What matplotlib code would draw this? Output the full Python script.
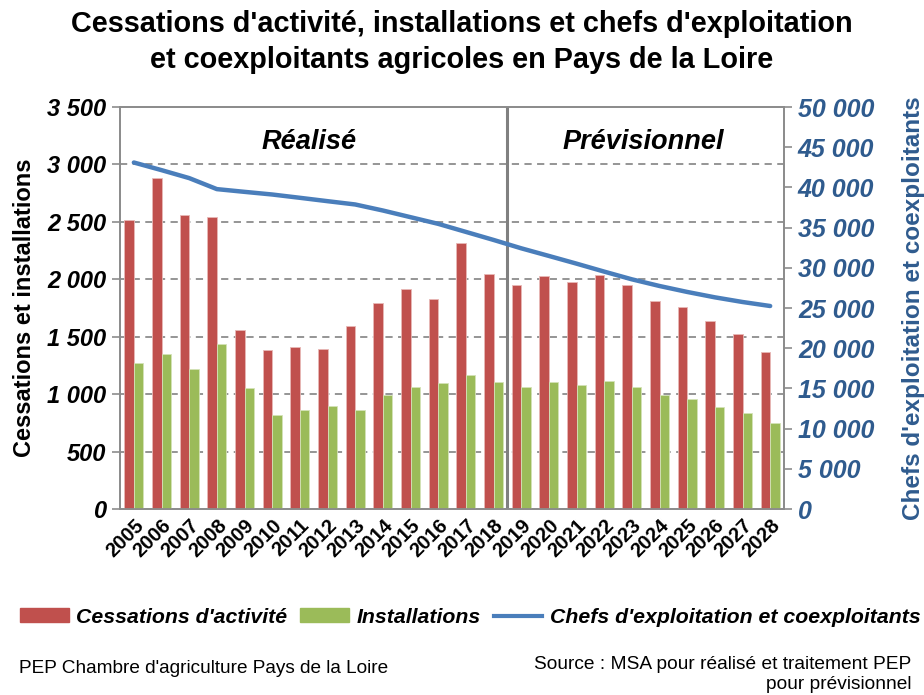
import matplotlib
matplotlib.use('Agg')
import matplotlib.pyplot as plt
import matplotlib.patches as mpatches
from matplotlib.lines import Line2D
from matplotlib.ticker import FuncFormatter, MultipleLocator
import numpy as np

plt.rcParams['font.family'] = ['Liberation Sans', 'DejaVu Sans']

# ── Data ───────────────────────────────────────────────────────────────────
years = [str(y) for y in range(2005, 2029)]
cessations = [2520, 2880, 2560, 2545, 1560, 1385, 1410, 1390, 1590, 1795,
              1915, 1830, 2320, 2050, 1950, 2025, 1975, 2040, 1950, 1815,
              1755, 1635, 1525, 1365]
installations = [1270, 1350, 1220, 1440, 1055, 820, 860, 895, 865, 995,
                 1065, 1095, 1165, 1105, 1065, 1110, 1080, 1115, 1065, 995,
                 960, 890, 835, 750]
chefs = [43100, 42150, 41160, 39790, 39450, 39120, 38710, 38290, 37880,
         37130, 36300, 35470, 34470, 33470, 32430, 31480, 30520, 29530,
         28570, 27740, 27000, 26330, 25750, 25250]

RED = '#C0504D'
GREEN = '#9BBB59'
BLUE = '#4A7EBB'
AXIS_BLUE = '#2F5B8E'
GRID = '#8C8C8C'

def fr_thousands(v, pos):
    return f'{int(v):,}'.replace(',', ' ')

# ── Figure ─────────────────────────────────────────────────────────────────
fig = plt.figure(figsize=(9.24, 6.95), dpi=100)
ax = fig.add_axes([0.1299, 0.2676, 0.7186, 0.5784])

x = np.arange(len(years))
w = 0.345
ax.bar(x - w / 2, cessations, w, color=RED, edgecolor='#E8B8B6', linewidth=0.6, zorder=3)
ax.bar(x + w / 2, installations, w, color=GREEN, edgecolor='#D4E3B8', linewidth=0.6, zorder=3)

ax.set_xlim(-0.5, len(years) - 0.5)
ax.set_ylim(0, 3500)
ax.yaxis.set_major_locator(MultipleLocator(500))
ax.yaxis.set_major_formatter(FuncFormatter(fr_thousands))
for gy in range(500, 3500, 500):
    ax.axhline(gy, color=GRID, linestyle=(0, (4, 3)), linewidth=1.3, zorder=1)

# split between actual and forecast years
ax.axvline(13.5, color='#808080', linewidth=2.2, zorder=4)

ax.set_xticks(x)
ax.set_xticklabels(years, rotation=45, ha='right', va='top',
                   rotation_mode='anchor', fontsize=14.5, fontweight='bold')
ax.tick_params(axis='x', length=0, pad=5)
ax.tick_params(axis='y', direction='out', length=6, color='#8C8C8C', width=1.2,
               labelsize=17, pad=4)
for lab in ax.get_yticklabels():
    lab.set_fontweight('bold')
    lab.set_fontstyle('italic')

for side in ['left', 'right', 'top', 'bottom']:
    ax.spines[side].set_color('#8C8C8C')
    ax.spines[side].set_linewidth(1.3)

ax.set_ylabel('Cessations et installations', fontsize=17, fontweight='bold', labelpad=8)

ax.text(6.35, 3195, 'Réalisé', fontsize=19.5, fontweight='bold', fontstyle='italic',
        ha='center', va='center', zorder=5)
ax.text(18.4, 3195, 'Prévisionnel', fontsize=19.5, fontweight='bold', fontstyle='italic',
        ha='center', va='center', zorder=5)

# ── Right axis: farm managers ──────────────────────────────────────────────
ax2 = ax.twinx()
ax2.plot(x, chefs, color=BLUE, linewidth=3.2, solid_capstyle='round', zorder=6)
ax2.set_ylim(0, 50000)
ax2.yaxis.set_major_locator(MultipleLocator(5000))
ax2.yaxis.set_major_formatter(FuncFormatter(fr_thousands))
ax2.tick_params(axis='y', direction='out', length=6, color='#8C8C8C', width=1.2,
                labelsize=18, labelcolor=AXIS_BLUE, pad=4)
for lab in ax2.get_yticklabels():
    lab.set_fontweight('bold')
    lab.set_fontstyle('italic')
for side in ['left', 'right', 'top', 'bottom']:
    ax2.spines[side].set_color('#8C8C8C')
    ax2.spines[side].set_linewidth(1.3)
ax2.set_ylabel("Chefs d'exploitation et coexploitants", fontsize=17.5,
               fontweight='bold', color=AXIS_BLUE, labelpad=20)

# ── Title ──────────────────────────────────────────────────────────────────
fig.text(0.5, 0.966, "Cessations d'activité, installations et chefs d'exploitation",
         ha='center', va='center', fontsize=20.8, fontweight='bold')
fig.text(0.5, 0.914, "et coexploitants agricoles en Pays de la Loire",
         ha='center', va='center', fontsize=20.8, fontweight='bold')

# ── Legend ─────────────────────────────────────────────────────────────────
handles = [mpatches.Patch(color=RED), mpatches.Patch(color=GREEN),
           Line2D([0], [0], color=BLUE, linewidth=3)]
labels = ["Cessations d'activité", 'Installations', "Chefs d'exploitation et coexploitants"]
fig.legend(handles, labels, loc='center', bbox_to_anchor=(0.509, 0.112), ncol=3,
           frameon=False, handlelength=2.3, handleheight=0.6, handletextpad=0.35,
           columnspacing=0.6, prop={'size': 15.3, 'weight': 'bold', 'style': 'italic'})

# ── Footer ─────────────────────────────────────────────────────────────────
fig.text(0.021, 0.038, "PEP Chambre d'agriculture Pays de la Loire",
         ha='left', va='center', fontsize=13.7)
fig.text(0.986, 0.044, "Source : MSA pour réalisé et traitement PEP",
         ha='right', va='center', fontsize=13.8)
fig.text(0.986, 0.015, "pour prévisionnel",
         ha='right', va='center', fontsize=13.8)

fig.savefig('out.png', dpi=100, facecolor='white')
